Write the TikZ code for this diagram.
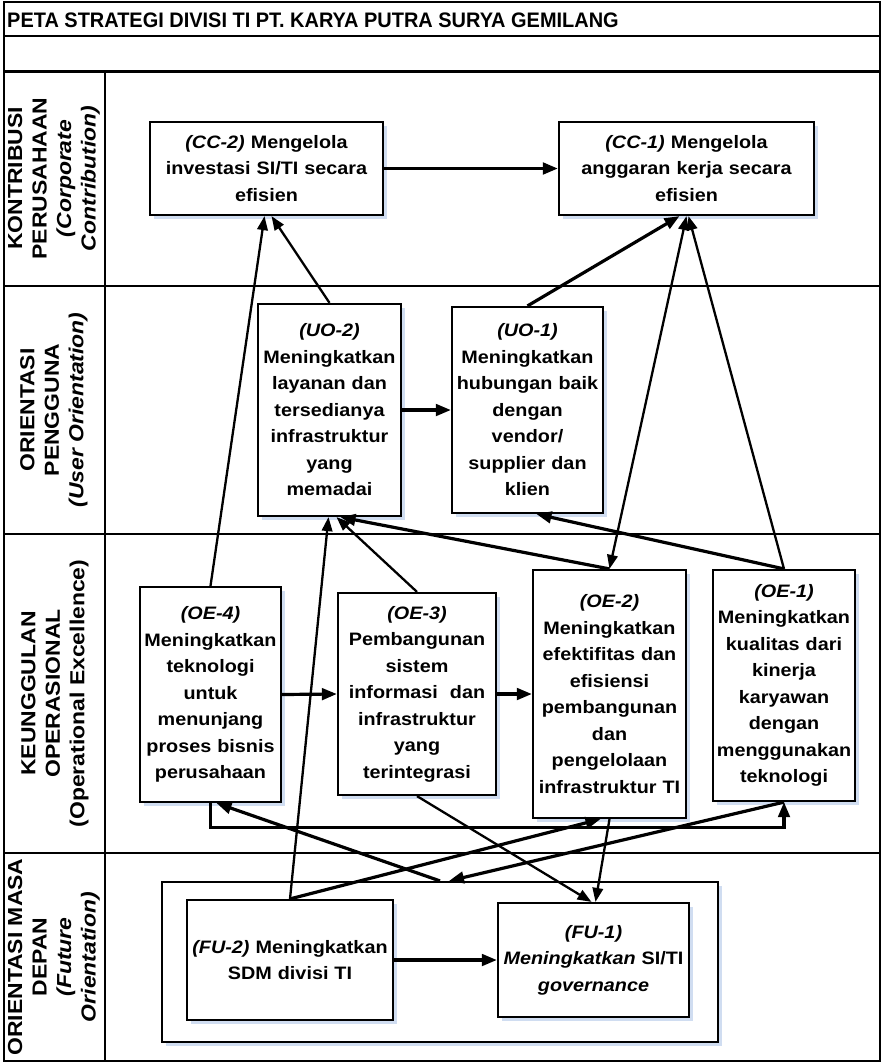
\documentclass[tikz,border=0pt]{standalone}
\usepackage{fontspec}
\setmainfont{Liberation Sans}
\newfontfamily\bodyfont[FakeStretch=1.1]{Liberation Sans}
\newfontfamily\lanefont[FakeStretch=1.13]{Liberation Sans}
\newfontfamily\titlefont[FakeStretch=0.95]{Liberation Sans}
\usetikzlibrary{arrows.meta,shadows}
\definecolor{shblue}{RGB}{208,221,241}
\begin{document}
\begin{tikzpicture}[x=1pt,y=-1pt,
  box/.style={draw=black, line width=2.2pt, fill=white, inner sep=0pt, align=center,
    font=\bodyfont\bfseries\fontsize{18}{26.5}\selectfont,
    drop shadow={shadow xshift=4pt, shadow yshift=-4pt, fill=shblue, opacity=1}},
  lane/.style={rotate=90, align=center, inner sep=0pt,
    font=\lanefont\bfseries\fontsize{20.3}{24.5}\selectfont},
  con/.style={line width=2.3pt, -{Triangle[length=14pt,width=10.5pt]}},
  conb/.style={line width=3.2pt, -{Triangle[length=15pt,width=11.5pt]}},
  con2/.style={line width=2.3pt, {Triangle[length=14pt,width=10.5pt]}-{Triangle[length=14pt,width=10.5pt]}},
  sep/.style={line width=2.6pt},
  frame/.style={line width=2pt}
]
\useasboundingbox (0,0) rectangle (883,1063);
\fill[white] (0,0) rectangle (883,1063);

% frame and lanes
\draw[frame] (4,2) rectangle (880,1061);
\draw[sep] (4,36) -- (880,36);
\draw[sep] (4,71.5) -- (880,71.5);
\draw[sep] (4,286) -- (880,286);
\draw[sep] (4,534) -- (880,534);
\draw[sep] (4,853) -- (880,853);
\draw[frame] (105,71.5) -- (105,1061);

\node[anchor=base west, inner sep=0pt, font=\titlefont\bfseries\fontsize{21}{25}\selectfont] (title) at (7,27)
  {PETA STRATEGI DIVISI TI PT. KARYA PUTRA SURYA GEMILANG};

% lane labels
\node[lane] (lcc) at (54,178.5) {KONTRIBUSI\\PERUSAHAAN\\\textit{(Corporate}\\\textit{Contribution)}};
\node[lane] (luo) at (54,410) {ORIENTASI\\PENGGUNA\\\textit{(User Orientation)}};
\node[lane] (loe) at (55,693.5) {KEUNGGULAN\\OPERASIONAL\\(Operational Excellence)};
\node[lane] (lfu) at (54,957) {ORIENTASI MASA\\DEPAN\\\textit{(Future}\\\textit{Orientation)}};

% boxes
\node[box, minimum width=233, minimum height=93, text width=229] (cc2) at (266.5,168.5)
  {\textit{(CC-2)} Mengelola\\investasi SI/TI secara\\efisien};
\node[box, minimum width=255, minimum height=93, text width=251] (cc1) at (686.5,168.5)
  {\textit{(CC-1)} Mengelola\\anggaran kerja secara\\efisien};
\node[box, minimum width=143, minimum height=212, text width=141] (uo2) at (329.5,410)
  {\textit{(UO-2)}\\Meningkatkan\\layanan dan\\tersedianya\\infrastruktur\\yang\\memadai};
\node[box, minimum width=151, minimum height=206, text width=149] (uo1) at (527.5,410)
  {\textit{(UO-1)}\\Meningkatkan\\hubungan baik\\dengan\\vendor/\\supplier dan\\klien};
\node[box, minimum width=141, minimum height=215, text width=139] (oe4) at (210.5,694.5)
  {\textit{(OE-4)}\\Meningkatkan\\teknologi\\untuk\\menunjang\\proses bisnis\\perusahaan};
\node[box, minimum width=158, minimum height=202, text width=156] (oe3) at (417,694)
  {\textit{(OE-3)}\\Pembangunan\\sistem\\informasi\ \ dan\\infrastruktur\\yang\\terintegrasi};
\node[box, minimum width=153, minimum height=248, text width=151] (oe2) at (609.5,694)
  {\textit{(OE-2)}\\Meningkatkan\\efektifitas dan\\efisiensi\\pembangunan\\dan\\pengelolaan\\infrastruktur TI};
\node[box, minimum width=142, minimum height=231, text width=140] (oe1) at (784,685.5)
  {\textit{(OE-1)}\\Meningkatkan\\kualitas dari\\kinerja\\karyawan\\dengan\\menggunakan\\teknologi};
\node[box, minimum width=556, minimum height=160] (fucont) at (440,962) {};
\node[box, minimum width=206, minimum height=120, text width=204] (fu2) at (290,960)
  {\textit{(FU-2)} Meningkatkan\\SDM divisi TI};
\node[box, minimum width=191, minimum height=114, text width=189] (fu1) at (593.5,960)
  {\textit{(FU-1)}\\\textit{Meningkatkan} SI/TI\\\textit{governance}};

% horizontal arrows
\draw[conb] (cc2.east) -- (cc1.west);
\draw[conb] (uo2.east) -- (uo1.west);
\draw[conb] (oe4.east) -- (oe3.west);
\draw[conb] (oe3.east) -- (oe2.west);
\draw[conb] (fu2.east) -- (fu1.west);

% to corporate contribution
\draw[con] (oe4.north) -- ([xshift=-2pt]cc2.south);
\draw[con] (uo2.north) -- ([xshift=5pt]cc2.south);
\draw[conb] (uo1.north) -- ([xshift=-7pt]cc1.south);
\draw[con] (oe1.north) -- ([xshift=2pt]cc1.south);
\draw[con2] (oe2.north) -- ([xshift=0pt]cc1.south);

% to user orientation
\draw[conb] (oe2.north) -- ([xshift=11pt]uo2.south);
\draw[con] (oe3.north) -- ([xshift=7pt]uo2.south);
\draw[con] (fu2.north) -- ([xshift=-1pt]uo2.south);
\draw[conb] (oe1.north) -- ([xshift=9pt]uo1.south);

% lower links
\draw[con] (oe3.south) -- ([xshift=-2pt]fu1.north);
\draw[con] (oe2.south) -- ([xshift=2pt]fu1.north);
\draw[conb] (fu2.north) -- ([xshift=-9pt]oe2.south);
\draw[conb] (oe1.south) -- ([xshift=9pt]fucont.north);
\draw[conb] (fucont.north) -- ([xshift=6pt]oe4.south);
\draw[conb] (oe4.south) -- ++(0,24) -| (oe1.south);
\end{tikzpicture}
\end{document}
